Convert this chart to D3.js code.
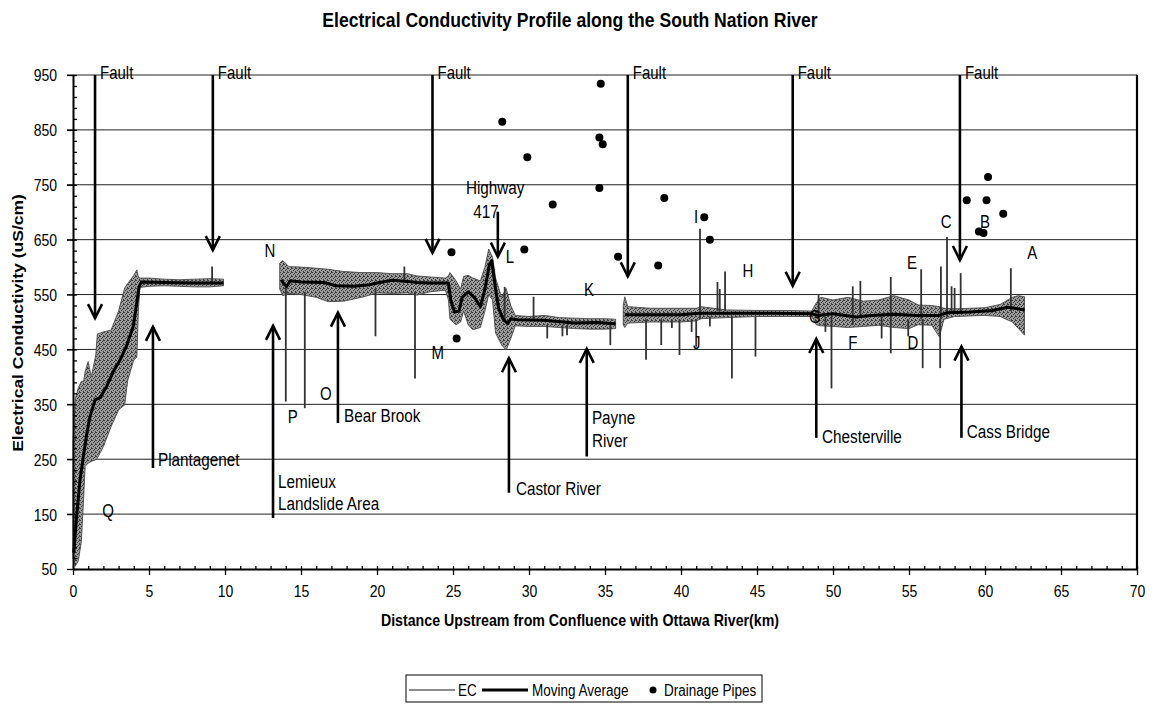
<!DOCTYPE html>
<html>
<head>
<meta charset="utf-8">
<script src="https://cdn.jsdelivr.net/npm/d3@7"></script>
<style>
body {margin:0;background:#fff;}
svg {font-family:"Liberation Sans", Arial, sans-serif;}
.grid line {stroke:#222;stroke-width:1;}
.axis path, .axis line {stroke:#000;}
.axis path {stroke-width:2;}
.axis line {stroke-width:1.3;}
</style>
</head>
<body>
<svg id="chart" width="1157" height="704"></svg>
<script>
// ---- data (km upstream, uS/cm) ----
var kmTicks = [0,5,10,15,20,25,30,35,40,45,50,55,60,65,70];
var ecTicks = [50,150,250,350,450,550,650,750,850,950];

// EC envelope: [km, low, high]; null rows are gaps in the survey
var ecBand = [
  [0.0,70,280],[0.15,55,360],[0.35,65,380],[0.55,100,392],[0.7,180,392],[0.8,237,410],
  [1.0,243,428],[1.2,246,400],[1.5,249,440],[1.6,252,478],[2.0,273,482],[2.5,309,485],
  [3.0,340,520],[3.4,349,562],[3.6,394,570],[4.0,431,585],[4.2,436,595],[4.3,520,582],
  [4.4,563,580],[5,565,580],[6,566,578],[7,565,577],[8,564,578],[9,564,579],[9.9,566,578],
  null,
  [13.6,560,607],[13.8,548,612],[14.2,552,601],[15,550,600],[16,545,598],[16.8,537,596],
  [17.8,538,592],[19,545,590],[20,553,590],[21,552,588],[22,553,588],[22.6,549,584],
  [23.5,555,582],[24.5,558,580],[24.7,540,584],[24.8,505,590],[25.2,495,575],[25.5,500,560],
  [25.7,520,583],[26.0,495,585],[26.3,486,580],[26.8,490,575],[27.1,520,600],[27.35,550,633],
  [27.6,540,618],[27.8,480,580],[28.2,458,545],[28.5,449,561],[28.8,470,530],[29.1,493,512],
  [30,492,510],[31,492,512],[32,490,508],[33,488,507],[34,487,506],[35,487,506],[35.7,488,505],
  null,
  [36.2,495,530],[36.3,490,546],[36.5,498,528],[38,500,525],[40,500,525],[41,502,525],
  [41.3,506,528],[43,508,522],[45,510,521],[47,510,521],[48.6,510,520],[48.9,495,535],
  [49.2,493,545],[50,492,540],[51,490,545],[52,492,538],[53,494,540],[54,490,548],
  [55,488,540],[55.6,495,531],[56.5,494,530],[57,473,528],[57.3,505,525],[58,510,524],
  [59,511,525],[60,512,526],[61,510,532],[61.8,500,545],[62.2,488,548],[62.6,476,546]
];

// single-reading spikes in the EC trace: [km, low, high]
var ecSpikes = [
  [9.15,570,601],[14.0,355,565],[15.25,343,555],[19.9,474,560],[21.8,575,601],[22.5,397,555],
  [28.4,500,564],[30.3,505,546],[31.2,470,495],[32.2,474,495],[32.5,476,495],[35.35,458,495],
  [37.7,431,505],[38.7,458,505],[39.4,489,505],[39.9,440,505],[40.7,482,505],[41.0,455,505],
  [41.25,505,670],[41.9,492,510],[42.4,520,573],[42.55,520,560],[42.9,520,592],[43.35,397,510],
  [44.9,437,510],[49.05,510,549],[49.5,482,510],[49.9,379,510],[51.3,495,565],[51.8,510,575],
  [53.2,470,510],[53.8,443,582],[54.95,474,505],[55.8,505,596],[55.9,416,505],[57.05,416,505],
  [57.1,505,601],[57.5,510,655],[57.8,515,565],[58.0,515,562],[58.4,515,589],[61.7,520,598]
];

var maKm = [0.05,0.24,0.45,0.68,0.9,1.12,1.45,1.78,2.2,2.65,3.1,3.5,3.96,4.2,4.35,4.5,6,8,9.9,
  null,
  13.7,13.85,14.05,14.3,15,16.5,17.3,18.5,19.5,20,21,22,22.6,23.5,24.7,24.85,25.1,25.4,25.6,
  26.0,26.4,26.8,27.1,27.4,27.55,27.8,28.0,28.3,28.6,28.8,29.2,31,33,34.5,35.7,
  null,
  36.3,37,40,41.2,44,46,48.6,49,50,51.5,52.5,54,55.5,57,57.5,59,60.5,61.5,62.6];
var maVal = [80,146,210,255,295,328,358,362,382,410,431,455,492,535,565,573,572,571,571,
  null,
  577,570,565,575,573,572,566,565,568,571,576,574,572,571,571,540,518,520,545,
  555,545,528,560,605,612,560,525,505,497,506,504,503,498,499,497,
  null,
  513,513,513,516,516,516,515,512,515,509,512,514,512,512,517,518,521,527,522];

var pipeKm  = [24.9,28.24,29.89,31.56,29.69,34.72,34.63,34.85,34.63,35.86,25.24,38.9,38.5,41.53,41.9,58.8,60.2,60.1,61.2,59.6,59.9];
var pipeVal = [627,865,800,714,632,934,836,824,744,619,470,726,603,691,650,722,764,722,697,665,662];

// faults: arrow down from the top of the plot to the value given
var faultKm  = [1.45,9.2,23.65,36.5,47.35,58.35];
var faultTip = [507,631,626,583,566,613];

// landmarks: arrow from `from` to `tip`
var landmarks = [
  {km:5.26, tip:491, from:234},   // Plantagenet
  {km:13.16, tip:493, from:143},  // Lemieux
  {km:17.43, tip:517, from:316},  // Bear Brook
  {km:28.68, tip:434, from:189},  // Castor River
  {km:33.8, tip:451, from:255},   // Payne River
  {km:48.9, tip:469, from:289},   // Chesterville
  {km:58.45, tip:455, from:289},  // Cass Bridge
  {km:27.95, tip:619, from:701}   // Highway 417
];

// text notes: [text, km, value] (left aligned)
var notes = [
  ["Plantagenet",5.59,250],["Lemieux",13.49,209],["Landslide Area",13.49,170],
  ["Bear Brook",17.83,329],["Castor River",29.14,196],["Payne",34.14,325],["River",34.14,284],
  ["Chesterville",49.28,291],["Cass Bridge",58.8,300],["Highway",25.85,745],["417",26.33,701]
];
// site letters: [letter, km, value] (centred)
var sites = [
  ["Q",2.3,157],["P",14.45,328],["O",16.64,369],["N",12.96,630],["M",24.0,444],["L",28.75,619],
  ["K",33.95,558],["J",41.03,462],["I",41.0,692],["H",44.4,594],["G",48.8,510],["F",51.3,462],
  ["E",55.2,608],["D",55.26,462],["C",57.44,682],["B",60.0,682],["A",63.1,626]
];

// ---- drawing ----
var svg = d3.select("#chart");
var x = d3.scaleLinear().domain([0,70]).range([73,1137]);
var y = d3.scaleLinear().domain([50,950]).range([569,75]);
var SY = 1.2; // the scan is stretched a bit vertically

// speckled grey, like the dense trace in the scan
var pat = svg.append("defs").append("pattern").attr("id", "speckle")
  .attr("width", 4).attr("height", 4).attr("patternUnits", "userSpaceOnUse");
pat.append("rect").attr("width", 4).attr("height", 4).attr("fill", "#9c9c9c");
[[0,0],[2,1],[1,2],[3,3],[3,0]].forEach(function (p) {
  pat.append("rect").attr("x", p[0]).attr("y", p[1]).attr("width", 1).attr("height", 1).attr("fill", "#3c3c3c");
});

function txt(g, px, py, s, size, opt) {
  opt = opt || {};
  var t = g.append("text")
    .attr("transform", "translate(" + px + "," + py + ") scale(1," + SY + ")" + (opt.rot ? " rotate(" + opt.rot + ")" : ""))
    .attr("dy", "0.35em")
    .attr("text-anchor", opt.anchor || "start")
    .style("font-size", size + "px")
    .text(s);
  if (opt.bold) t.style("font-weight", "bold");
  return t;
}

// gridlines
svg.append("g").attr("class", "grid")
  .selectAll("line").data(ecTicks.slice(1)).enter().append("line")
  .attr("x1", 67).attr("x2", x(70)).attr("y1", d => y(d)).attr("y2", d => y(d));

// EC band
var band = d3.area().defined(d => d !== null)
  .x(d => x(d[0])).y0(d => y(d[1])).y1(d => y(d[2]));
svg.append("path").datum(ecBand).attr("d", band)
  .attr("fill", "url(#speckle)").attr("stroke", "#4a4a4a").attr("stroke-width", 0.9);

svg.append("g").selectAll("line").data(ecSpikes).enter().append("line")
  .attr("x1", d => x(d[0])).attr("x2", d => x(d[0]))
  .attr("y1", d => y(d[1])).attr("y2", d => y(d[2]))
  .attr("stroke", "#333").attr("stroke-width", 1.8);

// moving average
var ma = maKm.map((k, i) => k === null ? null : [k, maVal[i]]);
svg.append("path").datum(ma)
  .attr("d", d3.line().defined(d => d !== null).x(d => x(d[0])).y(d => y(d[1])))
  .attr("fill", "none").attr("stroke", "#000").attr("stroke-width", 3).attr("stroke-linejoin", "round");

// arrows
var arrows = svg.append("g").attr("stroke", "#000").attr("stroke-width", 2.6).attr("fill", "none");
function arrow(k, v0, v1) {
  var px = x(k), ya = y(v0), yb = y(v1), dir = yb > ya ? -1 : 1;
  arrows.append("line").attr("x1", px).attr("x2", px).attr("y1", ya).attr("y2", yb);
  arrows.append("polyline").attr("points",
    (px - 7) + "," + (yb + dir * 14) + " " + px + "," + yb + " " + (px + 7) + "," + (yb + dir * 14));
}
faultKm.forEach((k, i) => arrow(k, 950, faultTip[i]));
landmarks.forEach(d => arrow(d.km, d.from, d.tip));

// drainage pipes
svg.append("g").selectAll("circle").data(pipeKm).enter().append("circle")
  .attr("cx", d => x(d)).attr("cy", (d, i) => y(pipeVal[i])).attr("r", 4).attr("fill", "#000");

// labels
var lab = svg.append("g").attr("fill", "#000");
faultKm.forEach(k => txt(lab, x(k) + 5, y(955), "Fault", 15));
notes.forEach(d => txt(lab, x(d[1]), y(d[2]), d[0], 15.3));
sites.forEach(d => txt(lab, x(d[1]), y(d[2]), d[0], 15, {anchor: "middle"}));

// axes
var gx = svg.append("g").attr("class", "axis").attr("transform", "translate(0," + y(50) + ")")
  .call(d3.axisBottom(x).tickValues(kmTicks).tickSizeInner(6).tickSizeOuter(0).tickFormat(d3.format("d")));
gx.selectAll("text").attr("y", 22 / SY).attr("dy", "0.35em")
  .attr("transform", "scale(1," + SY + ")").style("font-size", "14px");
svg.append("g").attr("class", "axis").attr("transform", "translate(0," + y(50) + ")")
  .call(d3.axisBottom(x).tickValues(d3.range(0, 71, 1)).tickSizeInner(-3).tickSizeOuter(0).tickFormat(""))
  .select(".domain").remove();

var gy = svg.append("g").attr("class", "axis").attr("transform", "translate(" + x(0) + ",0)")
  .call(d3.axisLeft(y).tickValues(ecTicks).tickSizeInner(6).tickSizeOuter(0));
gy.selectAll("text").attr("x", -16).attr("dy", "0.35em")
  .attr("transform", "scale(1," + SY + ")").style("font-size", "14px");
svg.append("g").attr("class", "axis").attr("transform", "translate(" + x(0) + ",0)")
  .call(d3.axisLeft(y).tickValues(d3.range(50, 951, 20)).tickSizeInner(-4).tickSizeOuter(0).tickFormat(""))
  .select(".domain").remove();
svg.selectAll(".axis text").attr("fill", "#000").style("font-family", "'Liberation Sans', Arial, sans-serif");

// right frame
svg.append("line").attr("x1", x(70)).attr("x2", x(70)).attr("y1", y(950)).attr("y2", y(50))
  .attr("stroke", "#000").attr("stroke-width", 2.2);

// titles
txt(svg, 570, 20, "Electrical Conductivity Profile along the South Nation River", 17.6, {anchor: "middle", bold: true});
txt(svg, 580, 620, "Distance Upstream from Confluence with Ottawa River(km)", 14.2, {anchor: "middle", bold: true});
txt(svg, 18, 323, "Electrical Conductivity (uS/cm)", 14.6, {anchor: "middle", bold: true, rot: -90});

// legend
var lg = svg.append("g");
lg.append("rect").attr("x", 406).attr("y", 675).attr("width", 356).attr("height", 27)
  .attr("fill", "#fff").attr("stroke", "#000").attr("stroke-width", 1);
lg.append("line").attr("x1", 409).attr("x2", 455).attr("y1", 690).attr("y2", 690).attr("stroke", "#8c8c8c").attr("stroke-width", 2);
txt(lg, 458, 690, "EC", 13.5);
lg.append("line").attr("x1", 482).attr("x2", 528).attr("y1", 690).attr("y2", 690).attr("stroke", "#000").attr("stroke-width", 3);
txt(lg, 532, 690, "Moving Average", 13.5);
lg.append("circle").attr("cx", 653).attr("cy", 690).attr("r", 3.5).attr("fill", "#000");
txt(lg, 664, 690, "Drainage Pipes", 13.5);
</script>
</body>
</html>
